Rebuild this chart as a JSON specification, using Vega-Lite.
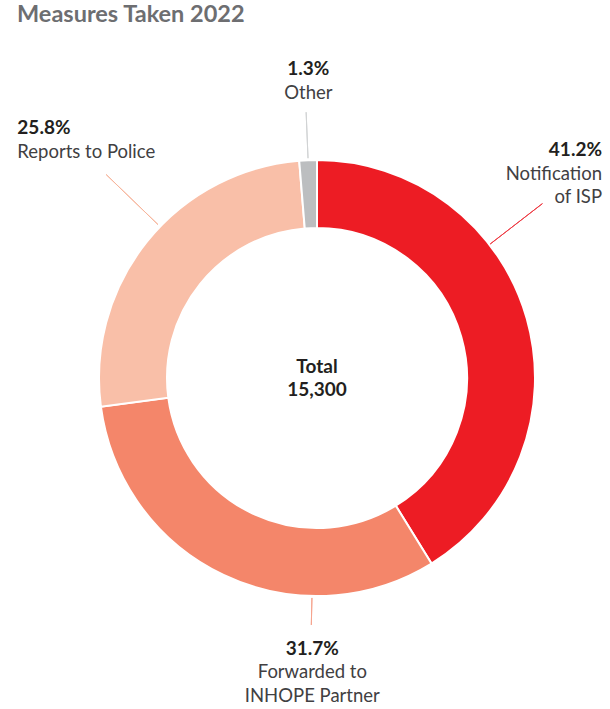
{
  "$schema": "https://vega.github.io/schema/vega-lite/v6.json",
  "width": 586,
  "height": 662,
  "autosize": {"type": "none"},
  "padding": {"left": 24, "top": 47, "right": 0, "bottom": 0},
  "background": "white",
  "config": {"view": {"stroke": null}, "font": "Lato"},
  "title": {
    "text": "Measures Taken 2022",
    "anchor": "start",
    "frame": "group",
    "dx": -7,
    "offset": 2,
    "baseline": "alphabetic",
    "font": "Lato",
    "fontSize": 23.5,
    "fontWeight": "bold",
    "color": "#6D6E71"
  },
  "data": {
    "values": [
      {"category": "Notification of ISP", "label": "Notification\nof ISP", "share": 0.412, "order": 1},
      {"category": "Forwarded to INHOPE Partner", "label": "Forwarded to\nINHOPE Partner", "share": 0.317, "order": 2},
      {"category": "Reports to Police", "label": "Reports to Police", "share": 0.258, "order": 3},
      {"category": "Other", "label": "Other", "share": 0.013, "order": 4}
    ]
  },
  "transform": [
    {"stack": "share", "groupby": [], "sort": [{"field": "order", "order": "ascending"}], "as": ["s0", "s1"]}
  ],
  "layer": [
    {
      "mark": {"type": "arc", "outerRadius": 218, "innerRadius": 150, "stroke": "white", "strokeWidth": 2},
      "encoding": {
        "theta": {"field": "s0", "type": "quantitative", "stack": null, "scale": {"domain": [0, 1]}},
        "theta2": {"field": "s1"},
        "color": {
          "field": "category",
          "type": "nominal",
          "scale": {
            "domain": ["Notification of ISP", "Forwarded to INHOPE Partner", "Reports to Police", "Other"],
            "range": ["#ED1C24", "#F4866A", "#F9BFA8", "#BCBEC0"]
          },
          "legend": null
        }
      }
    },
    {
      "transform": [{"filter": "datum.order === 1"}],
      "mark": {"type": "arc", "radius2": 219, "radius": 285, "padAngle": 3.14, "thetaOffset": -0.382, "theta2Offset": -0.382, "fillOpacity": 0, "stroke": "#EE3B44", "strokeWidth": 1},
      "encoding": {
        "theta": {"field": "s0", "type": "quantitative", "stack": null},
        "theta2": {"field": "s1"}
      }
    },
    {
      "transform": [{"filter": "datum.order === 2"}],
      "mark": {"type": "arc", "radius2": 220, "radius": 247, "padAngle": 3.14, "thetaOffset": -0.42, "theta2Offset": -0.42, "fillOpacity": 0, "stroke": "#F6A48E", "strokeWidth": 1},
      "encoding": {
        "theta": {"field": "s0", "type": "quantitative", "stack": null},
        "theta2": {"field": "s1"}
      }
    },
    {
      "transform": [{"filter": "datum.order === 3"}],
      "mark": {"type": "arc", "radius2": 221, "radius": 293, "padAngle": 3.14, "thetaOffset": 0.089, "theta2Offset": 0.089, "fillOpacity": 0, "stroke": "#F7B59C", "strokeWidth": 1},
      "encoding": {
        "theta": {"field": "s0", "type": "quantitative", "stack": null},
        "theta2": {"field": "s1"}
      }
    },
    {
      "transform": [{"filter": "datum.order === 4"}],
      "mark": {"type": "arc", "radius2": 220, "radius": 266, "padAngle": 3.14, "fillOpacity": 0, "stroke": "#D1D3D4", "strokeWidth": 1},
      "encoding": {
        "theta": {"field": "s0", "type": "quantitative", "stack": null},
        "theta2": {"field": "s1"}
      }
    },
    {
      "transform": [{"filter": "datum.order === 1"}],
      "mark": {"type": "text", "radius": 290, "align": "right", "baseline": "alphabetic", "dx": 285, "dy": 68, "font": "Lato", "fontSize": 19, "fontWeight": "bold", "color": "#231F20"},
      "encoding": {
        "theta": {"field": "s0", "type": "quantitative", "stack": null},
        "text": {"field": "share", "type": "quantitative", "format": ".1%"}
      }
    },
    {
      "transform": [{"filter": "datum.order === 1"}],
      "mark": {"type": "text", "radius": 290, "align": "right", "baseline": "alphabetic", "dx": 285, "dy": 92, "lineBreak": "\n", "lineHeight": 23, "font": "Lato", "fontSize": 18.5, "color": "#414042"},
      "encoding": {
        "theta": {"field": "s0", "type": "quantitative", "stack": null},
        "text": {"field": "label"}
      }
    },
    {
      "transform": [{"filter": "datum.order === 2"}],
      "mark": {"type": "text", "radius": 290, "align": "center", "baseline": "alphabetic", "dx": -157, "dy": 30, "font": "Lato", "fontSize": 19, "fontWeight": "bold", "color": "#231F20"},
      "encoding": {
        "theta": {"field": "s0", "type": "quantitative", "stack": null},
        "text": {"field": "share", "type": "quantitative", "format": ".1%"}
      }
    },
    {
      "transform": [{"filter": "datum.order === 2"}],
      "mark": {"type": "text", "radius": 290, "align": "center", "baseline": "alphabetic", "dx": -157, "dy": 53, "lineBreak": "\n", "lineHeight": 24, "font": "Lato", "fontSize": 18.5, "color": "#414042"},
      "encoding": {
        "theta": {"field": "s0", "type": "quantitative", "stack": null},
        "text": {"field": "label"}
      }
    },
    {
      "transform": [{"filter": "datum.order === 3"}],
      "mark": {"type": "text", "radius": 290, "align": "left", "baseline": "alphabetic", "dx": -276, "dy": 45, "font": "Lato", "fontSize": 19, "fontWeight": "bold", "color": "#231F20"},
      "encoding": {
        "theta": {"field": "s1", "type": "quantitative", "stack": null},
        "text": {"field": "share", "type": "quantitative", "format": ".1%"}
      }
    },
    {
      "transform": [{"filter": "datum.order === 3"}],
      "mark": {"type": "text", "radius": 290, "align": "left", "baseline": "alphabetic", "dx": -276, "dy": 69, "font": "Lato", "fontSize": 18.5, "color": "#414042"},
      "encoding": {
        "theta": {"field": "s1", "type": "quantitative", "stack": null},
        "text": {"field": "label"}
      }
    },
    {
      "transform": [{"filter": "datum.order === 4"}],
      "mark": {"type": "text", "radius": 290, "align": "center", "baseline": "alphabetic", "dx": 15, "dy": -14, "font": "Lato", "fontSize": 19, "fontWeight": "bold", "color": "#231F20"},
      "encoding": {
        "theta": {"field": "s0", "type": "quantitative", "stack": null},
        "text": {"field": "share", "type": "quantitative", "format": ".1%"}
      }
    },
    {
      "transform": [{"filter": "datum.order === 4"}],
      "mark": {"type": "text", "radius": 290, "align": "center", "baseline": "alphabetic", "dx": 15, "dy": 10, "font": "Lato", "fontSize": 18.5, "color": "#414042"},
      "encoding": {
        "theta": {"field": "s0", "type": "quantitative", "stack": null},
        "text": {"field": "label"}
      }
    },
    {
      "data": {"values": [{"caption": "Total", "total": 15300}]},
      "mark": {"type": "text", "align": "center", "baseline": "alphabetic", "dy": -5, "font": "Lato", "fontSize": 19, "fontWeight": "bold", "color": "#231F20"},
      "encoding": {"text": {"field": "caption"}}
    },
    {
      "data": {"values": [{"caption": "Total", "total": 15300}]},
      "mark": {"type": "text", "align": "center", "baseline": "alphabetic", "dy": 18, "font": "Lato", "fontSize": 19, "fontWeight": "bold", "color": "#231F20"},
      "encoding": {"text": {"field": "total", "type": "quantitative", "format": ","}}
    }
  ]
}
